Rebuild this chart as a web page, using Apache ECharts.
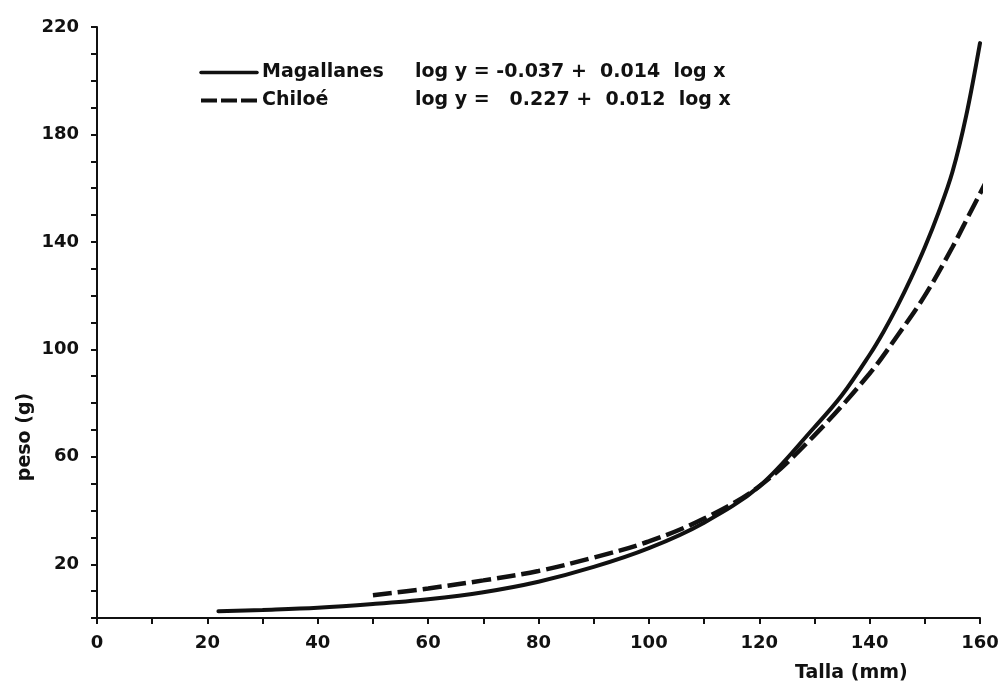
<!DOCTYPE html>
<html>
<head>
<meta charset="utf-8">
<script src="https://cdn.jsdelivr.net/npm/echarts@6/dist/echarts.min.js"></script>
<style>
  html, body { margin: 0; padding: 0; background: #fff; }
  #chart { width: 1003px; height: 685px; }
</style>
</head>
<body>
<div id="chart"></div>
<script>
// valores (talla mm, peso g)
var tallaMag = [22, 30, 40, 50, 60, 70, 80, 90, 100, 110, 120, 130, 135, 140, 142.5, 145, 147.5, 150, 152.5, 155, 157.5, 160];
var pesoMag = [2.5, 3.0, 3.8, 5.2, 7.0, 9.6, 13.5, 19, 26, 35.5, 49, 71, 83, 98, 106.5, 116, 126.5, 138, 151, 166, 187, 214];
var tallaChi = [50, 60, 70, 80, 90, 100, 110, 120, 130, 140, 145, 150, 155, 158, 161];
var pesoChi = [8.5, 11, 14, 17.5, 22.5, 28.5, 37, 49, 68, 91, 105, 120, 138, 150, 162];
var series_names = ['Magallanes', 'Chiloé'];
var ecuaciones = ['log y = -0.037 +  0.014  log x', 'log y =   0.227 +  0.012  log x'];

var font = 'DejaVu Sans';

function pares(xs, ys) {
  var out = [];
  for (var i = 0; i < xs.length; i++) out.push([xs[i], ys[i]]);
  return out;
}

var chart = echarts.init(document.getElementById('chart'));
var option = {
  animation: false,
  backgroundColor: '#fff',
  grid: { left: 97, right: 23, top: 27, bottom: 67 },
  legend: {
    orient: 'vertical',
    left: 194,
    top: 58,
    itemWidth: 56,
    itemHeight: 14,
    itemGap: 9,
    data: [
      { name: series_names[0], lineStyle: { width: 3.5 } },
      { name: series_names[1], lineStyle: { width: 4, type: [16, 4] } }
    ],
    itemStyle: { opacity: 0 },
    formatter: function (name) {
      var i = series_names.indexOf(name);
      return '{n|' + name + '}{e|' + ecuaciones[i] + '}';
    },
    textStyle: {
      rich: {
        n: { width: 153, fontFamily: font, fontWeight: 'bold', fontSize: 19, color: '#111' },
        e: { fontFamily: font, fontWeight: 'bold', fontSize: 19, color: '#111' }
      }
    }
  },
  xAxis: {
    type: 'value',
    min: 0,
    max: 160,
    interval: 10,
    splitLine: { show: false },
    axisLine: { lineStyle: { color: '#111', width: 2 } },
    axisTick: { length: 6, lineStyle: { color: '#111', width: 2 } },
    axisLabel: {
      margin: 16,
      fontFamily: font, fontWeight: 'bold', fontSize: 18, color: '#111',
      formatter: function (v) { return v % 20 === 0 ? String(v) : ''; }
    }
  },
  yAxis: {
    type: 'value',
    min: 0,
    max: 220,
    interval: 10,
    splitLine: { show: false },
    axisLine: { lineStyle: { color: '#111', width: 2 } },
    axisTick: { length: 6, lineStyle: { color: '#111', width: 2 } },
    axisLabel: {
      margin: 18,
      fontFamily: font, fontWeight: 'bold', fontSize: 18, color: '#111',
      formatter: function (v) { return (v - 20) % 40 === 0 ? String(v) : ''; }
    }
  },
  graphic: [
    {
      type: 'text', left: 795, top: 664,
      style: { text: 'Talla (mm)', fontFamily: font, fontWeight: 'bold', fontSize: 19, fill: '#111' }
    },
    {
      type: 'text', x: 25, y: 437, rotation: Math.PI / 2,
      style: { text: 'peso (g)', fontFamily: font, fontWeight: 'bold', fontSize: 19, fill: '#111',
               textAlign: 'center', textVerticalAlign: 'middle' }
    }
  ],
  series: [
    {
      name: series_names[0],
      type: 'line',
      smooth: 0.35,
      symbol: 'none',
      clip: false,
      data: pares(tallaMag, pesoMag),
      lineStyle: { color: '#111', width: 4, cap: 'round' },
      itemStyle: { color: '#111' }
    },
    {
      name: series_names[1],
      type: 'line',
      smooth: 0.35,
      symbol: 'none',
      clip: false,
      data: pares(tallaChi, pesoChi),
      lineStyle: { color: '#111', width: 4.5, type: [19, 6] },
      itemStyle: { color: '#111' }
    }
  ]
};
chart.setOption(option);
</script>
</body>
</html>
